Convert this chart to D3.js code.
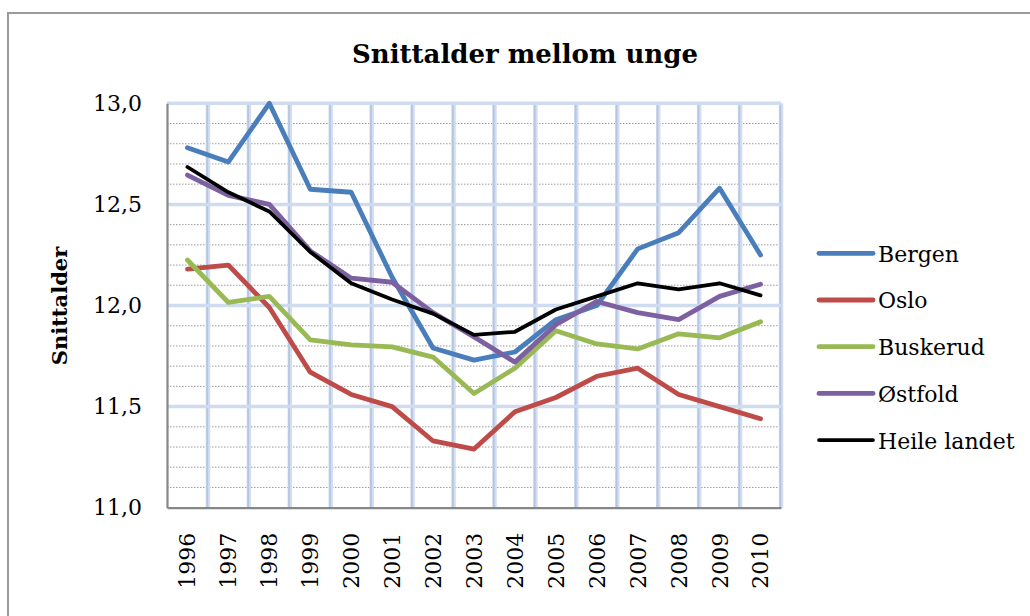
<!DOCTYPE html>
<html>
<head>
<meta charset="utf-8">
<script src="https://cdn.jsdelivr.net/npm/d3@7"></script>
<style>
  html, body { margin: 0; padding: 0; background: #fff; }
  svg { display: block; }
  text { font-family: "DejaVu Serif", serif; fill: #000; }
</style>
</head>
<body>
<svg id="chart" width="1030" height="616"></svg>
<script>
// --- data
const years = ["1996","1997","1998","1999","2000","2001","2002","2003","2004","2005","2006","2007","2008","2009","2010"];
const bergen   = [12.78, 12.71, 13.00, 12.575, 12.56, 12.14, 11.79, 11.73, 11.77, 11.93, 12.00, 12.28, 12.36, 12.58, 12.25];
const oslo     = [12.18, 12.20, 11.99, 11.67, 11.56, 11.50, 11.33, 11.29, 11.475, 11.545, 11.65, 11.69, 11.56, 11.50, 11.44];
const buskerud = [12.225, 12.015, 12.045, 11.83, 11.805, 11.795, 11.745, 11.565, 11.69, 11.875, 11.81, 11.785, 11.86, 11.84, 11.92];
const ostfold  = [12.645, 12.545, 12.50, 12.27, 12.135, 12.115, 11.965, 11.845, 11.72, 11.905, 12.02, 11.965, 11.93, 12.045, 12.105];
const heile    = [12.685, 12.56, 12.465, 12.265, 12.11, 12.03, 11.96, 11.855, 11.87, 11.98, 12.045, 12.11, 12.08, 12.11, 12.05];
const seriesNames = ["Bergen", "Oslo", "Buskerud", "Østfold", "Heile landet"];
const seriesValues = [bergen, oslo, buskerud, ostfold, heile];
const yTicks = [11.0, 11.5, 12.0, 12.5, 13.0];

const colors = ["#4a7ebb", "#be4b48", "#98b954", "#7d60a0", "#000000"];
const widths = [4.8, 4.8, 4.8, 4.8, 3.8];

const W = 1030, H = 616;
const plot = { left: 167, right: 781, top: 103.3, bottom: 507.7 };

const svg = d3.select("#chart");
svg.append("rect").attr("width", W).attr("height", H).attr("fill", "#fff");

// outer frame of the chart object
svg.append("rect")
  .attr("x", 8).attr("y", 13).attr("width", 1040).attr("height", 640)
  .attr("fill", "none").attr("stroke", "#9a9a9a").attr("stroke-width", 2);

const x = d3.scaleBand().domain(years).range([plot.left, plot.right]).padding(0);
const y = d3.scaleLinear().domain([11, 13]).range([plot.bottom, plot.top]);
const no = d3.formatLocale({ decimal: ",", thousands: " ", grouping: [3], currency: ["", " kr"] });

// minor dotted gridlines every 0.1
const minor = d3.range(111, 131).map(d => d / 10).filter(v => Math.round(v * 10) % 5 !== 0);
svg.append("g").selectAll("line").data(minor).join("line")
  .attr("x1", plot.left).attr("x2", plot.right)
  .attr("y1", d => y(d)).attr("y2", d => y(d))
  .attr("stroke", "#9c9c9c").attr("stroke-width", 1).attr("stroke-dasharray", "1.5,1.5");

// vertical gridlines at category boundaries
const bounds = years.slice(1).map(d => x(d)).concat([plot.right]);
const vg = svg.append("g");
vg.selectAll("line.vw").data(bounds).join("line").attr("class", "vw")
  .attr("x1", d => d).attr("x2", d => d).attr("y1", plot.top).attr("y2", plot.bottom)
  .attr("stroke", "#d3def0").attr("stroke-width", 4.5);
vg.selectAll("line.vc").data(bounds).join("line").attr("class", "vc")
  .attr("x1", d => d - 0.7).attr("x2", d => d - 0.7).attr("y1", plot.top).attr("y2", plot.bottom)
  .attr("stroke", "#b6c6e1").attr("stroke-width", 1.8);

// major horizontal gridlines
svg.append("g").selectAll("line").data(yTicks.slice(1)).join("line")
  .attr("x1", plot.left).attr("x2", plot.right)
  .attr("y1", d => y(d)).attr("y2", d => y(d))
  .attr("stroke", "#cfdbef").attr("stroke-width", 3.5);

// y axis
const yAxis = svg.append("g")
  .attr("transform", `translate(${plot.left},0)`)
  .call(d3.axisLeft(y).tickValues(yTicks).tickFormat(no.format(".1f")).tickSize(0).tickPadding(25));
yAxis.select(".domain").attr("stroke", "#868686").attr("stroke-width", 2.2);
yAxis.selectAll("text").attr("font-family", "DejaVu Serif").attr("font-size", 22).attr("fill", "#000");

// x axis
const xAxis = svg.append("g")
  .attr("transform", `translate(0,${plot.bottom})`)
  .call(d3.axisBottom(x).tickSize(0).tickPadding(0));
xAxis.select(".domain").attr("stroke", "#868686").attr("stroke-width", 2.2);
xAxis.selectAll("text")
  .attr("font-family", "DejaVu Serif").attr("font-size", 22).attr("fill", "#000")
  .attr("text-anchor", "end")
  .attr("transform", "translate(0,25) rotate(-90)")
  .attr("x", 0).attr("y", 0).attr("dy", "0.36em");

// lines
const line = d3.line().x((d, i) => x(years[i]) + x.bandwidth() / 2).y(d => y(d));
svg.append("g").selectAll("path").data(seriesValues).join("path")
  .attr("d", d => line(d))
  .attr("fill", "none")
  .attr("stroke", (d, i) => colors[i])
  .attr("stroke-width", (d, i) => widths[i])
  .attr("stroke-linejoin", "round").attr("stroke-linecap", "round");

// legend
const lg = svg.append("g").attr("transform", "translate(819,253.3)");
seriesNames.forEach((name, i) => {
  const row = lg.append("g").attr("transform", `translate(0,${i * 46.7})`);
  row.append("line").attr("x1", 0).attr("x2", 54).attr("y1", 0).attr("y2", 0)
    .attr("stroke", colors[i]).attr("stroke-width", widths[i]).attr("stroke-linecap", "round");
  row.append("text").attr("x", 59).attr("y", 8.4).attr("font-size", 22).text(name);
});

// title and axis title
svg.append("text").attr("x", 525).attr("y", 63).attr("text-anchor", "middle")
  .attr("font-weight", "bold").attr("font-size", 26).text("Snittalder mellom unge");

svg.append("text").attr("transform", "translate(67,306) rotate(-90)").attr("text-anchor", "middle")
  .attr("font-weight", "bold").attr("font-size", 21).text("Snittalder");
</script>
</body>
</html>
